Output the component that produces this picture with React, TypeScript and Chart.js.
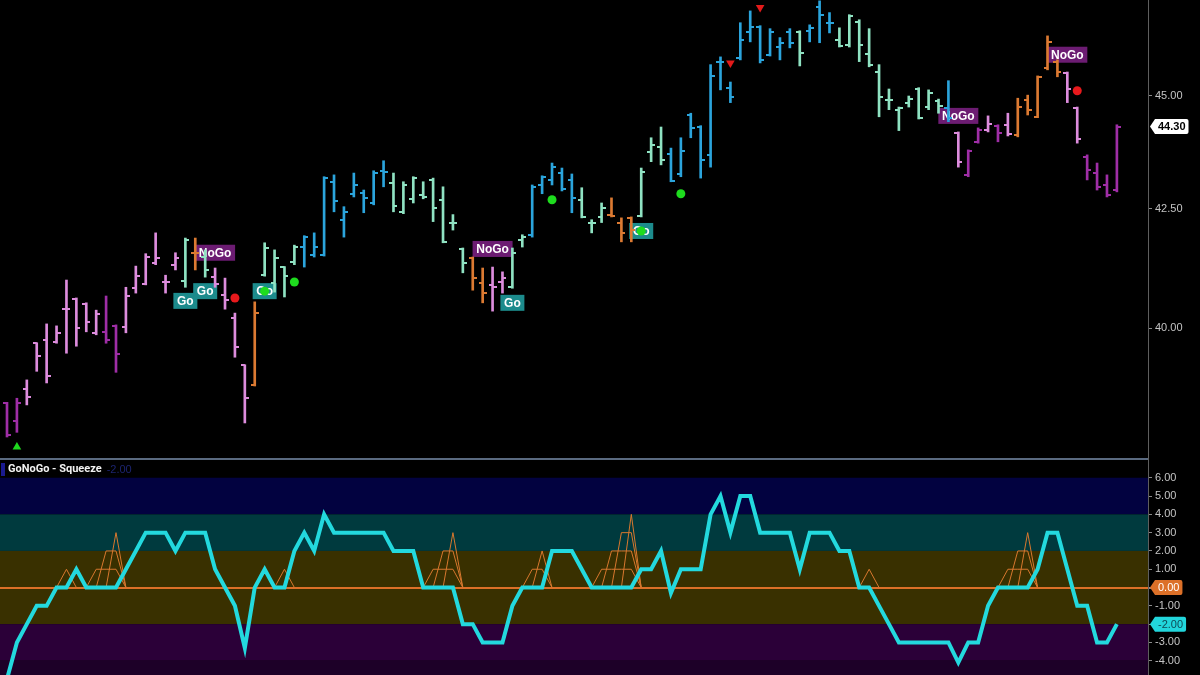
import React, { useEffect, useRef } from "react";
import { Chart, registerables } from "chart.js";

Chart.register(...registerables);

// ---- price bars (one per session) ----
// trend codes: B = strong Go (blue), M = weak Go (mint), O = amber, K = weak NoGo (pink), P = strong NoGo (purple)
const trend = [
  "P","P","K","K","K","K","K","K","K","K",
  "P","P","K","K","K","K","K","K","M","O",
  "M","K","K","K","K","O","M","M","M","M",
  "B","B","B","B","B","B","B","B","B","M",
  "M","M","M","M","M","M","M","O","O","K",
  "K","M","M","B","B","B","B","B","M","M",
  "M","O","O","O","M","M","M","B","B","B",
  "B","B","B","B","B","B","B","B","B","B",
  "M","B","B","B","M","M","M","M","M","M",
  "M","M","M","M","M","B","K","P","P","K",
  "P","K","O","O","O","O","O","K","K","P",
  "P","P","P",
];
const opens = [
  38.51, 38.17, 38.79, 39.70, 39.76, 39.72, 40.39, 40.60, 40.50, 39.91,
  39.93, 40.05, 40.03, 40.82, 40.91, 41.35, 40.95, 41.31, 40.97, 41.56,
  41.47, 41.05, 40.68, 40.21, 39.26, 38.87, 41.09, 40.93, 41.26, 41.37,
  41.68, 41.52, 41.52, 43.08, 42.26, 42.82, 42.84, 42.62, 43.32, 43.05,
  42.43, 42.71, 42.80, 43.12, 42.69, 42.20, 41.64, 41.45, 40.93, 40.89,
  40.95, 40.84, 41.83, 41.94, 43.01, 43.12, 43.27, 43.12, 42.69, 42.20,
  42.32, 42.37, 42.20, 42.30, 42.35, 43.73, 43.85, 43.69, 43.25, 44.56,
  44.29, 43.67, 45.78, 45.18, 45.87, 46.48, 46.59, 45.94, 46.12, 46.48,
  46.48, 46.50, 47.07, 46.69, 46.29, 46.17, 46.71, 45.96, 45.54, 44.90,
  44.68, 44.84, 45.15, 44.74, 44.88, 44.72, 44.16, 43.23, 43.96, 44.23,
  44.32, 44.34, 44.12, 44.90, 44.52, 45.64, 45.78, 45.52, 44.72, 43.63,
  43.27, 43.01, 42.90,
];
const highs = [
  38.53, 38.61, 38.97, 39.71, 40.09, 40.05, 40.99, 40.62, 40.52, 40.37,
  40.66, 40.07, 40.84, 41.28, 41.54, 41.98, 41.09, 41.56, 41.87, 41.87,
  41.62, 41.24, 41.03, 40.31, 39.27, 40.54, 41.77, 41.62, 41.27, 41.72,
  41.92, 41.98, 43.19, 43.23, 42.54, 43.27, 42.90, 43.32, 43.54, 43.27,
  43.08, 43.19, 43.08, 43.16, 42.97, 42.37, 41.66, 41.47, 41.24, 41.26,
  41.16, 41.66, 41.94, 43.01, 43.21, 43.49, 43.38, 43.25, 42.95, 42.26,
  42.62, 42.73, 42.30, 42.32, 43.38, 44.05, 44.29, 43.82, 44.05, 44.60,
  44.32, 45.71, 45.89, 45.31, 46.69, 46.97, 46.62, 46.55, 46.34, 46.55,
  46.50, 46.64, 47.21, 46.93, 46.57, 46.88, 46.76, 46.55, 45.71, 45.15,
  44.74, 44.99, 45.18, 45.13, 44.92, 45.34, 44.18, 43.78, 44.27, 44.54,
  44.34, 44.60, 44.94, 45.01, 45.45, 46.38, 45.82, 45.54, 44.74, 43.67,
  43.49, 43.23, 44.34,
];
const lows = [
  37.86, 37.95, 38.48, 39.14, 38.91, 39.70, 39.50, 39.64, 39.93, 39.87,
  39.70, 39.12, 39.91, 40.72, 40.89, 41.31, 40.72, 41.20, 40.84, 41.20,
  41.05, 40.84, 40.39, 39.42, 38.13, 38.85, 41.07, 40.74, 40.64, 41.31,
  41.26, 41.47, 41.49, 42.43, 41.89, 42.75, 42.41, 42.58, 42.97, 42.43,
  42.39, 42.62, 42.71, 42.22, 41.77, 42.04, 41.14, 40.78, 40.52, 40.35,
  40.72, 40.82, 41.68, 41.89, 42.82, 43.01, 42.88, 42.41, 42.30, 41.98,
  42.20, 42.32, 41.79, 41.79, 42.32, 43.52, 43.45, 43.08, 43.19, 44.05,
  43.16, 43.40, 45.13, 44.84, 45.82, 46.24, 45.75, 45.91, 45.82, 46.10,
  45.68, 46.24, 46.22, 46.45, 46.12, 46.12, 45.78, 45.66, 44.52, 44.68,
  44.21, 44.74, 44.47, 44.68, 44.60, 44.41, 43.40, 43.19, 43.93, 44.18,
  43.96, 44.09, 44.07, 44.56, 44.50, 45.59, 45.43, 44.84, 43.93, 43.12,
  42.90, 42.75, 42.86,
];
const closes = [
  37.90, 38.51, 38.63, 39.44, 39.05, 39.91, 40.39, 40.01, 40.13, 40.29,
  39.76, 39.48, 40.66, 41.07, 41.47, 41.45, 40.95, 41.45, 41.83, 41.56,
  41.20, 40.91, 40.58, 39.62, 38.61, 40.31, 41.66, 41.45, 41.07, 41.68,
  41.89, 41.68, 43.16, 42.67, 42.43, 43.01, 42.73, 43.27, 43.30, 42.56,
  43.01, 43.16, 42.75, 42.52, 41.79, 42.20, 41.35, 41.03, 40.72, 40.84,
  41.03, 41.56, 41.89, 42.97, 43.19, 43.40, 42.92, 42.73, 42.32, 42.20,
  42.52, 42.35, 41.98, 42.04, 43.30, 43.89, 43.56, 43.10, 43.76, 44.27,
  43.56, 45.45, 45.78, 44.97, 46.29, 46.59, 45.82, 46.48, 46.22, 46.22,
  45.98, 46.57, 46.88, 46.69, 46.15, 46.86, 46.17, 45.71, 44.97, 44.90,
  44.72, 44.92, 44.50, 45.06, 44.77, 44.50, 43.52, 43.76, 44.23, 44.36,
  44.16, 44.14, 44.74, 44.68, 45.43, 46.24, 45.54, 45.15, 44.02, 43.34,
  42.97, 42.80, 44.30,
];

// ---- signals on the price panel ----
const goLabelBars = [18, 20, 26, 51, 64];
const goLabelPrices = [40.56, 40.76, 40.76, 40.52, 42.02];
const noGoLabelBars = [21, 49, 96, 107];
const noGoLabelPrices = [41.56, 41.64, 44.54, 45.94];
const greenDotBars = [26, 29, 55, 64, 68];
const greenDotPrices = [40.76, 40.95, 42.69, 42.02, 42.82];
const redDotBars = [23, 108];
const redDotPrices = [40.62, 45.11];
const downTriBars = [73, 76];
const downTriPrices = [45.75, 47.05];
const upTriBars = [1];
const upTriPrices = [37.67];

const priceTicks = [40, 42.5, 45];

// ---- oscillator panel ----
const oscillator = [
  -5, -3, -2, -1, -1, 0, 0, 1, 0, 0,
  0, 0, 1, 2, 3, 3, 3, 2, 3, 3,
  3, 1, 0, -1, -3.3, 0, 1, 0, 0, 2,
  3, 2, 4, 3, 3, 3, 3, 3, 3, 2,
  2, 2, 0, 0, 0, 0, -2, -2, -3, -3,
  -3, -1, 0, 0, 0, 2, 2, 2, 1, 0,
  0, 0, 0, 0, 1, 1, 2, -0.3, 1, 1,
  1, 4, 5, 3, 5, 5, 3, 3, 3, 3,
  1, 3, 3, 3, 2, 2, 0, 0, -1, -2,
  -3, -3, -3, -3, -3, -3, -4.1, -3, -3, -1,
  0, 0, 0, 0, 1, 3, 3, 1, -1, -1,
  -3, -3, -2,
];
const squeeze = [
  0, 0, 0, 0, 0, 0, 1, 0, 0, 1,
  2, 3, 0, 0, 0, 0, 0, 0, 0, 0,
  0, 0, 0, 0, 0, 0, 0, 0, 1, 0,
  0, 0, 0, 0, 0, 0, 0, 0, 0, 0,
  0, 0, 0, 1, 2, 3, 0, 0, 0, 0,
  0, 0, 0, 1, 2, 0, 0, 0, 0, 0,
  1, 2, 3, 4, 0, 0, 0, 0, 0, 0,
  0, 0, 0, 0, 0, 0, 0, 0, 0, 0,
  0, 0, 0, 0, 0, 0, 0, 1, 0, 0,
  0, 0, 0, 0, 0, 0, 0, 0, 0, 0,
  0, 1, 2, 3, 0, 0, 0, 0, 0, 0,
  0, 0, 0,
];
const oscTicks = [-4, -3, -2, -1, 0, 1, 2, 3, 4, 5, 6];
const bandEdges = [6, 4, 2, -2, -4, -99];
const bandColors = ["#020240", "#003a3e", "#393000", "#2b0038", "#1d0028"];

// ---- styling ----
const trendColors: Record<string, string> = {
  B: "#2ba4dc",
  M: "#8fe2c2",
  O: "#dc7a32",
  K: "#dd8cdd",
  P: "#9f2ea6",
};
const X_MIN = -0.706;
const X_MAX = 115.14;
const AXIS_W = 52;
const FONT = '"Liberation Sans", Arial, sans-serif';

function makeTick(color: string, side: "L" | "R") {
  const c = document.createElement("canvas");
  c.width = 8;
  c.height = 2;
  const g = c.getContext("2d")!;
  g.fillStyle = color;
  g.fillRect(side === "L" ? 0 : 4, 0, 4, 2);
  return c;
}

function drawTag(ctx: CanvasRenderingContext2D, left: number, yc: number, text: string, bg: string, fg: string, bold: boolean) {
  ctx.save();
  ctx.font = `${bold ? "bold " : ""}11px ${FONT}`;
  const tw = ctx.measureText(text).width;
  const h = 15, pt = 5, pad = 3;
  const w = tw + pad * 2;
  const x0 = left + pt;
  ctx.beginPath();
  ctx.moveTo(left, yc);
  ctx.lineTo(x0, yc - h / 2);
  ctx.lineTo(x0 + w - 2, yc - h / 2);
  ctx.quadraticCurveTo(x0 + w, yc - h / 2, x0 + w, yc - h / 2 + 2);
  ctx.lineTo(x0 + w, yc + h / 2 - 2);
  ctx.quadraticCurveTo(x0 + w, yc + h / 2, x0 + w - 2, yc + h / 2);
  ctx.lineTo(x0, yc + h / 2);
  ctx.closePath();
  ctx.fillStyle = bg;
  ctx.fill();
  ctx.fillStyle = fg;
  ctx.textAlign = "left";
  ctx.textBaseline = "middle";
  ctx.fillText(text, x0 + pad, yc + 0.5);
  ctx.restore();
}

const fitAxis = (s: any) => {
  s.width = AXIS_W;
  s.paddingTop = 0;
  s.paddingBottom = 0;
};

export default function App() {
  const topRef = useRef<HTMLCanvasElement>(null);
  const botRef = useRef<HTMLCanvasElement>(null);

  useEffect(() => {
    const tickImgs: Record<string, HTMLCanvasElement> = {};
    Object.keys(trendColors).forEach((k) => {
      tickImgs[k + "L"] = makeTick(trendColors[k], "L");
      tickImgs[k + "R"] = makeTick(trendColors[k], "R");
    });
    const barColors = trend.map((t) => trendColors[t]);

    const labelPlugin = {
      id: "gonogoLabels",
      beforeDatasetsDraw(chart: any) {
        const { ctx, scales } = chart;
        const x = scales.x, y = scales.y;
        ctx.save();
        ctx.font = `bold 12px ${FONT}`;
        ctx.textAlign = "center";
        ctx.textBaseline = "middle";
        const draw = (text: string, b: number, p: number, bg: string) => {
          const px = x.getPixelForValue(b);
          const py = y.getPixelForValue(p);
          const w = Math.round(ctx.measureText(text).width + 7);
          const h = 16;
          ctx.fillStyle = bg;
          ctx.fillRect(px - w / 2, py - h / 2, w, h);
          ctx.fillStyle = "#ffffff";
          ctx.fillText(text, px, py + 1);
        };
        goLabelBars.forEach((b, i) => draw("Go", b, goLabelPrices[i], "#1c8b8c"));
        noGoLabelBars.forEach((b, i) => draw("NoGo", b, noGoLabelPrices[i], "#6c1c72"));
        ctx.restore();
      },
      afterDraw(chart: any) {
        const y = chart.scales.y;
        const last = closes[closes.length - 1];
        drawTag(chart.ctx, chart.chartArea.right + 2, y.getPixelForValue(last), last.toFixed(2), "#ffffff", "#000000", true);
      },
    };

    const top = new Chart(topRef.current!, {
      type: "bar",
      data: {
        datasets: [
          {
            type: "scatter",
            data: greenDotBars.map((b, i) => ({ x: b, y: greenDotPrices[i] })),
            pointStyle: "circle",
            pointRadius: 4.5,
            backgroundColor: "#1edc1e",
            borderWidth: 0,
            order: 0,
          } as any,
          {
            type: "scatter",
            data: redDotBars.map((b, i) => ({ x: b, y: redDotPrices[i] })),
            pointStyle: "circle",
            pointRadius: 4.5,
            backgroundColor: "#e8191c",
            borderWidth: 0,
            order: 0,
          },
          {
            type: "scatter",
            data: downTriBars.map((b, i) => ({ x: b, y: downTriPrices[i] })),
            pointStyle: "triangle",
            pointRadius: 5,
            rotation: 180,
            backgroundColor: "#e31a1a",
            borderWidth: 0,
            order: 0,
          },
          {
            type: "scatter",
            data: upTriBars.map((b, i) => ({ x: b, y: upTriPrices[i] })),
            pointStyle: "triangle",
            pointRadius: 5,
            backgroundColor: "#1ed81e",
            borderWidth: 0,
            order: 0,
          },
          {
            type: "scatter",
            data: opens.map((o, i) => ({ x: i, y: o })),
            pointStyle: trend.map((t) => tickImgs[t + "L"]),
            pointRadius: 2,
            order: 1,
          },
          {
            type: "scatter",
            data: closes.map((c, i) => ({ x: i, y: c })),
            pointStyle: trend.map((t) => tickImgs[t + "R"]),
            pointRadius: 2,
            order: 1,
          },
          {
            type: "bar",
            data: lows.map((l, i) => ({ x: i, y: [l, highs[i]] })),
            backgroundColor: barColors,
            borderWidth: 0,
            barThickness: 2,
            order: 2,
          },
        ] as any,
      },
      options: {
        animation: false,
        responsive: true,
        maintainAspectRatio: false,
        events: [],
        layout: { padding: 0, autoPadding: false },
        plugins: { legend: { display: false }, tooltip: { enabled: false } },
        scales: {
          x: { type: "linear", min: X_MIN, max: X_MAX, offset: false, display: false },
          y: {
            type: "logarithmic",
            position: "right",
            min: 37.46,
            max: 47.23,
            afterBuildTicks: (s: any) => {
              s.ticks = priceTicks.map((v) => ({ value: v }));
            },
            afterFit: fitAxis,
            grid: { drawOnChartArea: false, drawTicks: true, tickLength: 4, tickColor: "#8a8a8a" },
            border: { display: true, color: "#5e5e5e", width: 1 },
            ticks: {
              padding: 3,
              color: "#c4c4c4",
              font: { size: 11, family: FONT },
              callback: (v: any) => Number(v).toFixed(2),
            },
          },
        },
      } as any,
      plugins: [labelPlugin],
    });

    // squeeze levels built from the squeeze array
    const maxLevel = Math.max(...squeeze);
    const levelSets: any[] = [];
    for (let k = 1; k <= maxLevel; k++) {
      const vals: (number | null)[] = squeeze.map(() => null);
      for (let i = 0; i < squeeze.length; i++) {
        if (squeeze[i] >= k) {
          vals[i] = k;
          if (i > 0 && squeeze[i - 1] < k) vals[i - 1] = 0;
          if (i + 1 < squeeze.length && squeeze[i + 1] < k) vals[i + 1] = 0;
        }
      }
      levelSets.push({
        type: "line",
        data: vals.map((v, i) => ({ x: i, y: v })),
        borderColor: "#d8782e",
        borderWidth: 1,
        pointRadius: 0,
        spanGaps: false,
        tension: 0,
        order: 1,
      });
    }

    const bandPlugin = {
      id: "bands",
      beforeDraw(chart: any) {
        const { ctx, chartArea, scales } = chart;
        const y = scales.y;
        ctx.save();
        for (let i = 0; i < bandColors.length; i++) {
          const y1 = Math.max(chartArea.top, y.getPixelForValue(bandEdges[i]));
          const y2 = Math.min(chartArea.bottom, y.getPixelForValue(bandEdges[i + 1]));
          ctx.fillStyle = bandColors[i];
          ctx.fillRect(chartArea.left, y1, chartArea.right - chartArea.left, y2 - y1);
        }
        ctx.restore();
      },
      afterDraw(chart: any) {
        const { ctx, chartArea, scales } = chart;
        const y = scales.y;
        ctx.save();
        ctx.fillStyle = "#1a1a90";
        ctx.fillRect(1, 3, 4, 13);
        ctx.font = `bold 11px Roboto, ${FONT}`;
        ctx.fillStyle = "#f2f2f2";
        ctx.textAlign = "left";
        ctx.textBaseline = "middle";
        ctx.fillText("GoNoGo - Squeeze", 8, 9.5);
        const tw = ctx.measureText("GoNoGo - Squeeze").width;
        ctx.font = `11px ${FONT}`;
        ctx.fillStyle = "#1c2470";
        ctx.fillText("-2.00", 8 + tw + 5, 9.5);
        ctx.restore();
        drawTag(ctx, chartArea.right + 2, y.getPixelForValue(0), "0.00", "#dc7028", "#ffffff", false);
        const lastOsc = oscillator[oscillator.length - 1];
        drawTag(ctx, chartArea.right + 2, y.getPixelForValue(lastOsc), lastOsc.toFixed(2), "#22d6dc", "#0e4a55", false);
      },
    };

    const bot = new Chart(botRef.current!, {
      type: "line",
      data: {
        datasets: [
          {
            type: "line",
            data: oscillator.map((v, i) => ({ x: i, y: v })),
            borderColor: "#23d9de",
            borderWidth: 4,
            pointRadius: 0,
            tension: 0,
            order: 0,
          },
          ...levelSets,
        ],
      },
      options: {
        animation: false,
        responsive: true,
        maintainAspectRatio: false,
        events: [],
        layout: { padding: 0, autoPadding: false },
        plugins: { legend: { display: false }, tooltip: { enabled: false } },
        scales: {
          x: { type: "linear", min: X_MIN, max: X_MAX, offset: false, display: false },
          y: {
            type: "linear",
            position: "right",
            min: -4.78,
            max: 6.97,
            afterBuildTicks: (s: any) => {
              s.ticks = oscTicks.map((v) => ({ value: v }));
            },
            afterFit: fitAxis,
            grid: {
              drawOnChartArea: true,
              drawTicks: true,
              tickLength: 4,
              tickColor: "#8a8a8a",
              color: (c: any) => (c.tick && c.tick.value === 0 ? "#dc7028" : "rgba(0,0,0,0)"),
              lineWidth: (c: any) => (c.tick && c.tick.value === 0 ? 2 : 1),
            },
            border: { display: true, color: "#5e5e5e", width: 1 },
            ticks: {
              padding: 3,
              color: "#c4c4c4",
              font: { size: 11, family: FONT },
              callback: (v: any) => Number(v).toFixed(2),
            },
          },
        },
      } as any,
      plugins: [bandPlugin],
    });

    return () => {
      top.destroy();
      bot.destroy();
    };
  }, []);

  return (
    <div style={{ position: "fixed", left: 0, top: 0, width: 1200, height: 675, background: "#000", overflow: "hidden" }}>
      <div style={{ position: "absolute", left: 0, top: 0, width: 1200, height: 458 }}>
        <canvas ref={topRef} />
      </div>
      <div style={{ position: "absolute", left: 0, top: 458, width: 1148, height: 2, background: "#5a6a80" }} />
      <div style={{ position: "absolute", left: 1148, top: 458, width: 1, height: 2, background: "#5e5e5e" }} />
      <div style={{ position: "absolute", left: 0, top: 460, width: 1200, height: 215 }}>
        <canvas ref={botRef} />
      </div>
    </div>
  );
}
